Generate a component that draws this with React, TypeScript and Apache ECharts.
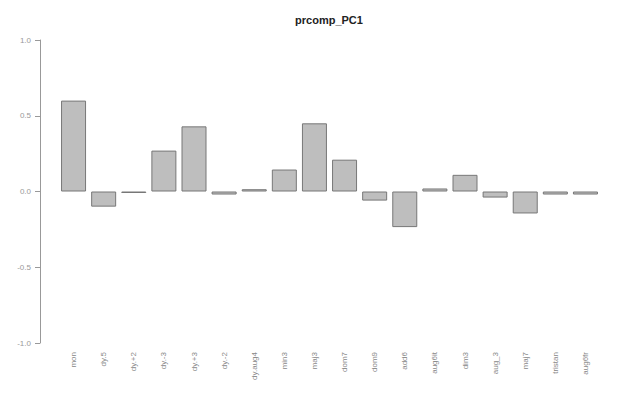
import React, { useEffect, useRef } from "react";
import * as echarts from "echarts";

const categories = [
  "mon", "dy.5", "dy.+2", "dy.-3", "dy.+3", "dy.-2", "dy.aug4", "min3", "maj3",
  "dom7", "dom9", "add6", "aug6it", "dim3", "aug_3", "maj7", "tristan", "aug6fr",
];
const values = [
  0.6, -0.1, -0.01, 0.27, 0.43, -0.02, 0.015, 0.145, 0.45,
  0.21, -0.06, -0.235, 0.02, 0.11, -0.04, -0.145, -0.02, -0.02,
];
const yTicks = [-1, -0.5, 0, 0.5, 1];
const title = "prcomp_PC1";

export default function App() {
  const ref = useRef<HTMLDivElement>(null);
  useEffect(() => {
    if (!ref.current) return;
    const chart = echarts.init(ref.current, null, { renderer: "svg" });
    chart.setOption({
      animation: false,
      backgroundColor: "#ffffff",
      graphic: [
        {
          type: "text",
          x: 329,
          y: 20,
          style: {
            text: title,
            fill: "#222",
            font: "bold 11px 'Liberation Sans', Arial, sans-serif",
            textAlign: "center",
            textVerticalAlign: "middle",
          },
        },
      ],
      grid: { left: 58.5, width: 542, top: 40, height: 303 },
      xAxis: {
        type: "category",
        data: categories,
        boundaryGap: true,
        axisLine: { show: false, onZero: false },
        axisTick: { show: false },
        axisLabel: {
          rotate: 90,
          interval: 0,
          margin: 9,
          color: "#888",
          fontSize: 8,
          fontFamily: "'Liberation Sans', Arial, sans-serif",
        },
      },
      yAxis: {
        type: "value",
        min: yTicks[0],
        max: yTicks[yTicks.length - 1],
        interval: 0.5,
        offset: 18.5,
        splitLine: { show: false },
        axisLine: { show: true, lineStyle: { color: "#999", width: 1 } },
        axisTick: { show: true, inside: false, length: 5, lineStyle: { color: "#999" } },
        axisLabel: {
          color: "#999",
          fontSize: 8,
          margin: 9,
          fontFamily: "'Liberation Sans', Arial, sans-serif",
          formatter: (v: number) => v.toFixed(1),
        },
      },
      series: [
        {
          type: "bar",
          data: values,
          barWidth: 25,
          itemStyle: { color: "#bebebe", borderColor: "#777", borderWidth: 1 },
        },
      ],
    });
    return () => chart.dispose();
  }, []);
  return (
    <div
      ref={ref}
      style={{ position: "fixed", left: 0, top: 0, width: 640, height: 393 }}
    />
  );
}
